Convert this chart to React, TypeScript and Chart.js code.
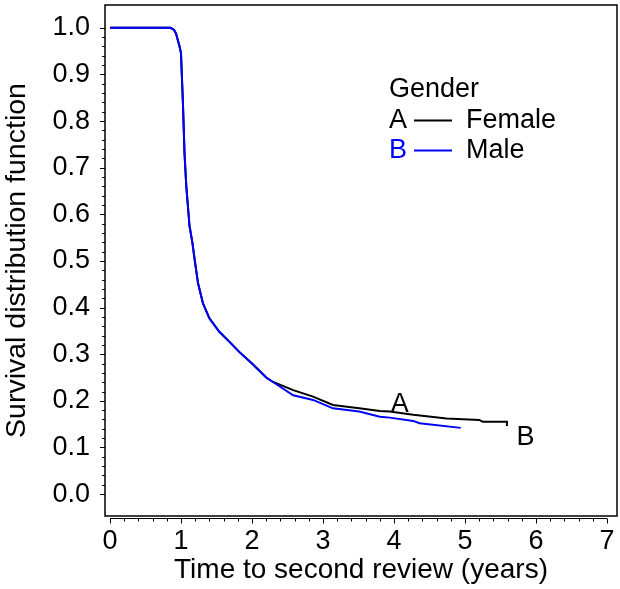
import { useEffect, useRef } from "react";
import { Chart, registerables } from "chart.js";

Chart.register(...registerables);

// Kaplan-Meier estimates by gender (time in years, survival probability)
const femaleTimes = [
  0, 0.85, 0.9, 0.93, 0.955, 0.98, 1.0, 1.027, 1.05, 1.075, 1.12, 1.16, 1.2, 1.24, 1.31,
  1.4, 1.54, 1.68, 1.82, 2.0, 2.2, 2.29, 2.58, 2.86, 3.14, 3.51, 3.8, 3.94, 4.27, 4.74,
  5.2, 5.25, 5.59, 5.59,
];
const femaleSurvival = [
  1.0, 1.0, 0.996, 0.988, 0.974, 0.96, 0.946, 0.84, 0.73, 0.66, 0.575, 0.54, 0.495, 0.452,
  0.409, 0.377, 0.348, 0.327, 0.305, 0.28, 0.25, 0.241, 0.223, 0.209, 0.191, 0.184, 0.178,
  0.177, 0.17, 0.162, 0.159, 0.155, 0.155, 0.146,
];
const maleTimes = [
  0, 0.85, 0.9, 0.93, 0.955, 0.98, 1.0, 1.027, 1.05, 1.075, 1.12, 1.16, 1.2, 1.24, 1.31,
  1.4, 1.54, 1.68, 1.82, 2.0, 2.2, 2.29, 2.58, 2.86, 3.14, 3.51, 3.8, 3.94, 4.27, 4.36,
  4.94,
];
const maleSurvival = [
  1.0, 1.0, 0.996, 0.988, 0.974, 0.96, 0.946, 0.84, 0.73, 0.66, 0.575, 0.54, 0.495, 0.452,
  0.409, 0.377, 0.348, 0.327, 0.305, 0.28, 0.25, 0.241, 0.212, 0.202, 0.184, 0.177, 0.166,
  0.164, 0.157, 0.152, 0.142,
];

const xTickValues = [0, 1, 2, 3, 4, 5, 6, 7];
const yTickValues = [0, 0.1, 0.2, 0.3, 0.4, 0.5, 0.6, 0.7, 0.8, 0.9, 1.0];

const groupCodes = ["A", "B"];
const groupNames = ["Female", "Male"];
const groupColors = ["#000000", "#0000ff"];
const legendTitle = "Gender";
const xTitle = "Time to second review (years)";
const yTitle = "Survival distribution function";

// where the group codes sit next to the curves (data units)
const codeAnchors = [
  { x: 4.08, y: 0.193 },
  { x: 5.85, y: 0.122 },
];

const FONT = "'Liberation Sans', Arial, Helvetica, sans-serif";
const FONT_SIZE = 27;

const toPoints = (t: number[], s: number[]) => t.map((v, i) => ({ x: v, y: s[i] }));

const decorations = {
  id: "decorations",
  afterDraw(chart: any) {
    const { ctx, chartArea } = chart;
    const xs = chart.scales.x;
    const ys = chart.scales.y;
    ctx.save();

    // plot frame
    ctx.strokeStyle = "#000";
    ctx.lineWidth = 1.5;
    ctx.strokeRect(chartArea.left, chartArea.top, chartArea.right - chartArea.left, chartArea.bottom - chartArea.top);

    // y-axis tick marks (major 0.1, minor 0.02)
    ctx.lineWidth = 1;
    for (let i = 0; i <= 50; i++) {
      const v = i / 50;
      const py = Math.round(ys.getPixelForValue(v)) + 0.5;
      const len = i % 5 === 0 ? 5 : 3;
      ctx.beginPath();
      ctx.moveTo(chartArea.left, py);
      ctx.lineTo(chartArea.left - len, py);
      ctx.stroke();
    }

    // x-axis line with ticks (major 1, minor 0.2)
    const axisY = chartArea.bottom + 2.5;
    ctx.beginPath();
    ctx.moveTo(xs.getPixelForValue(0), axisY);
    ctx.lineTo(xs.getPixelForValue(7), axisY);
    ctx.stroke();
    for (let i = 0; i <= 35; i++) {
      const v = i / 5;
      const px = Math.round(xs.getPixelForValue(v)) + 0.5;
      const len = i % 5 === 0 ? 5 : 3;
      ctx.beginPath();
      ctx.moveTo(px, axisY);
      ctx.lineTo(px, axisY + len);
      ctx.stroke();
    }

    ctx.font = `${FONT_SIZE}px ${FONT}`;

    // curve codes
    ctx.textAlign = "center";
    ctx.textBaseline = "middle";
    codeAnchors.forEach((a, i) => {
      ctx.fillStyle = "#000";
      ctx.fillText(groupCodes[i], xs.getPixelForValue(a.x), ys.getPixelForValue(a.y));
    });

    // legend block
    ctx.textAlign = "left";
    ctx.textBaseline = "alphabetic";
    const lx = 389;
    ctx.fillStyle = "#000";
    ctx.fillText(legendTitle, lx, 97);
    groupNames.forEach((name, i) => {
      const base = 128 + i * 30;
      ctx.fillStyle = groupColors[i];
      ctx.fillText(groupCodes[i], lx, base);
      ctx.strokeStyle = groupColors[i];
      ctx.lineWidth = 2;
      ctx.beginPath();
      ctx.moveTo(414, base - 7.5);
      ctx.lineTo(452, base - 7.5);
      ctx.stroke();
      ctx.fillStyle = "#000";
      ctx.fillText(name, 466, base);
    });

    ctx.restore();
  },
};

export default function App() {
  const canvasRef = useRef<HTMLCanvasElement | null>(null);

  useEffect(() => {
    if (!canvasRef.current) return;
    const chart = new Chart(canvasRef.current, {
      type: "line",
      data: {
        datasets: [
          {
            label: groupNames[0],
            data: toPoints(femaleTimes, femaleSurvival),
            borderColor: groupColors[0],
            borderWidth: 2,
            pointRadius: 0,
            tension: 0,
            order: 2,
          },
          {
            label: groupNames[1],
            data: toPoints(maleTimes, maleSurvival),
            borderColor: groupColors[1],
            borderWidth: 2,
            pointRadius: 0,
            tension: 0,
            order: 1,
          },
        ],
      },
      options: {
        animation: false,
        responsive: false,
        events: [],
        layout: { padding: { top: 5, right: 3, left: 0, bottom: 0 } },
        plugins: { legend: { display: false }, tooltip: { enabled: false } },
        scales: {
          x: {
            type: "linear",
            min: -0.07,
            max: 7.14,
            grid: { display: false },
            border: { display: false },
            afterBuildTicks: (scale: any) => {
              scale.ticks = xTickValues.map((v) => ({ value: v }));
            },
            afterFit: (scale: any) => {
              scale.height = 73;
              scale.paddingLeft = 0;
              scale.paddingRight = 0;
            },
            ticks: {
              autoSkip: false,
              maxRotation: 0,
              padding: 1,
              color: "#000",
              font: { family: FONT, size: FONT_SIZE },
              callback: (v: any) => String(v),
            },
            title: {
              display: true,
              text: xTitle,
              color: "#000",
              font: { family: FONT, size: 28 },
              padding: { top: 0, bottom: 2 },
            },
          },
          y: {
            type: "linear",
            min: -0.047,
            max: 1.049,
            grid: { display: false },
            border: { display: false },
            afterBuildTicks: (scale: any) => {
              scale.ticks = yTickValues.map((v) => ({ value: v }));
            },
            afterFit: (scale: any) => {
              scale.width = 105;
              scale.paddingTop = 0;
              scale.paddingBottom = 0;
            },
            ticks: {
              autoSkip: false,
              padding: 7,
              color: "#000",
              font: { family: FONT, size: FONT_SIZE },
              callback: (v: any) => Number(v).toFixed(1),
            },
            title: {
              display: true,
              text: yTitle,
              color: "#000",
              font: { family: FONT, size: 28.5 },
              padding: { top: 0, bottom: 0 },
            },
          },
        },
      },
      plugins: [decorations],
    });
    return () => chart.destroy();
  }, []);

  return (
    <div style={{ position: "absolute", left: 0, top: 0, width: 620, height: 589, background: "#fff" }}>
      <canvas ref={canvasRef} width={620} height={589} />
    </div>
  );
}
